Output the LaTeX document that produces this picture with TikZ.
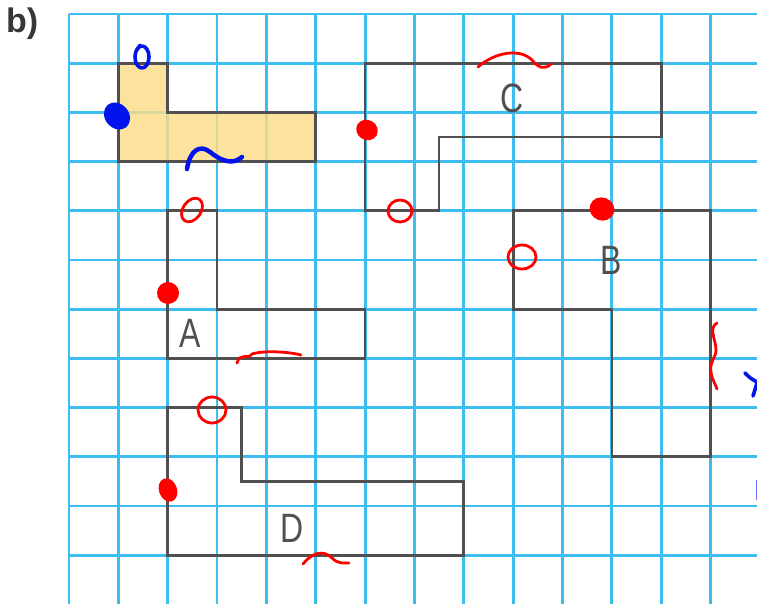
\documentclass[tikz,border=0pt]{standalone}
\usepackage{fontspec}
\setmainfont{Liberation Sans}
\definecolor{gridblue}{RGB}{62,190,240}
\definecolor{shapegray}{RGB}{80,80,80}
\definecolor{fillyellow}{RGB}{252,220,135}
\definecolor{penred}{RGB}{255,0,0}
\definecolor{penblue}{RGB}{0,20,235}
\definecolor{labelgray}{RGB}{80,80,80}
\begin{document}
\begin{tikzpicture}[x=1pt,y=-1pt,
  gridline/.style={gridblue, line width=2.8pt},
  outline/.style={shapegray, line width=2.7pt, line join=miter},
  letter/.style={text=labelgray, font=\fontsize{41}{41}\selectfont, inner sep=0pt},
  redpen/.style={penred, line width=2.8pt, line cap=round, line join=round},
  bluepen/.style={penblue, line width=4.5pt, line cap=round, line join=round}]
\useasboundingbox (0,0) rectangle (757,604);
\fill[white] (0,0) rectangle (757,604);
\node[anchor=base west, inner sep=0pt, text={rgb,255:red,55;green,55;blue,55},
  font=\fontsize{34}{34}\selectfont\bfseries] (title) at (6,33) {b)};
\begin{scope}[shift={(69,14)}, x=49.35pt, y=-49.2pt]
  % grid
  \foreach \i in {0,...,13} \draw[gridline] (\i,0) -- (\i,12.2);
  \foreach \j in {0,...,11} \draw[gridline] (0,\j) -- (14.1,\j);
  % yellow shape
  \fill[fillyellow, fill opacity=0.82] (1,1) -- (2,1) -- (2,2) -- (5,2) -- (5,3) -- (1,3) -- cycle;
  \draw[outline] (1,1) -- (2,1) -- (2,2) -- (5,2) -- (5,3) -- (1,3) -- cycle;
  % C
  \draw[outline] (6,1) -- (12,1) -- (12,2.5) -- (7.5,2.5) -- (7.5,4) -- (6,4) -- cycle;
  % B
  \draw[outline] (9,4) -- (13,4) -- (13,9) -- (11,9) -- (11,6) -- (9,6) -- cycle;
  % A
  \draw[outline] (2,4) -- (3,4) -- (3,6) -- (6,6) -- (6,7) -- (2,7) -- cycle;
  % D
  \draw[outline] (2,8) -- (3.5,8) -- (3.5,9.5) -- (8,9.5) -- (8,11) -- (2,11) -- cycle;
\end{scope}
% letters
\node[letter] (lA) at (190,333) {\scalebox{0.78}[1]{A}};
\node[letter] (lB) at (611,260) {\scalebox{0.78}[1]{B}};
\node[letter] (lC) at (512,98) {\scalebox{0.78}[1]{C}};
\node[letter] (lD) at (292,528) {\scalebox{0.78}[1]{D}};
% blue pen marks
\draw[bluepen, line width=3.6pt] (142,57) ellipse [x radius=7, y radius=11];
\draw[bluepen, line width=3.2pt] (137,50) -- (140,45);
\fill[penblue, rotate around={40:(117,116)}] (117,116) ellipse [x radius=12, y radius=14.5];
\draw[bluepen] (187,169) .. controls (190,150) and (200,144) .. (210,152) .. controls (220,160) and (232,166) .. (242,157);
\draw[bluepen, line width=3.6pt] (745,373) .. controls (750,378) .. (757,382);
\draw[bluepen, line width=3.6pt] (753,396) -- (757,383);
\fill[penblue!60] (755.5,480) rectangle (757,500);
% red pen marks
\fill[penred, rotate around={-30:(367,130)}] (367,130) ellipse [x radius=11, y radius=10];
\draw[redpen] (400,211) ellipse [x radius=12, y radius=11];
\fill[penred, rotate around={-20:(602,209)}] (602,209) ellipse [x radius=12.5, y radius=11.5];
\draw[redpen] (478,67) .. controls (495,52) and (520,48) .. (532,60) .. controls (538,68) and (545,70) .. (551,64);
\draw[redpen] (522,257) ellipse [x radius=14, y radius=12];
\draw[redpen] (717,323) .. controls (708,328) and (716,340) .. (716,350) .. controls (716,358) and (709,362) .. (711,372) .. controls (712,380) and (716,385) .. (717,389);
\draw[redpen, rotate around={-35:(192,210)}] (192,210) ellipse [x radius=9, y radius=13];
\fill[penred] (168,293) ellipse [x radius=11, y radius=11];
\draw[redpen] (237,363) .. controls (240,352) and (248,360) .. (252,354) .. controls (265,350) and (290,352) .. (301,355);
\draw[redpen] (212,410) ellipse [x radius=14, y radius=13];
\fill[penred, rotate around={20:(168,490)}] (168,490) ellipse [x radius=9, y radius=12];
\draw[redpen] (303,564) .. controls (310,555) and (322,548) .. (332,558) .. controls (338,564) and (343,563) .. (349,563);
\end{tikzpicture}
\end{document}
